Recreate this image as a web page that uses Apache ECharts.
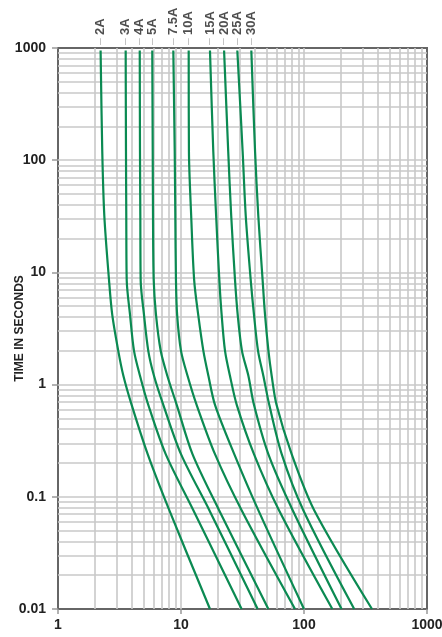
<!DOCTYPE html>
<html lang="en">
<head>
    <meta charset="UTF-8">
    <title>Time-current curves</title>
    <script type="text/javascript" src="https://cdn.jsdelivr.net/npm/echarts@6/dist/echarts.min.js"></script>
    <style>
        html, body { margin: 0; padding: 0; background: #fff; }
        #chart { width: 442px; height: 637px; }
    </style>
</head>
<body>
<div id="chart"></div>
<script type="text/javascript">
    // fuse ratings, and the time (s) rows the currents were read at
    var ratings = ['2A', '3A', '4A', '5A', '7.5A', '10A', '15A', '20A', '25A', '30A'];
    var timeSec = [950, 120, 32, 8.5, 4.2, 2.0, 1.2, 0.66, 0.24, 0.076, 0.01];

    // current (A) of each curve at those times
    var amps2A  = [2.22, 2.29, 2.38, 2.60, 2.76, 3.09, 3.40, 3.97, 5.36, 8.03, 17.2];
    var amps3A  = [3.55, 3.57, 3.59, 3.62, 3.85, 4.15, 4.64, 5.42, 7.51, 12.6, 31.1];
    var amps4A  = [4.62, 4.64, 4.67, 4.70, 5.00, 5.42, 6.03, 7.18, 10.0, 17.0, 42.0];
    var amps5A  = [5.84, 5.89, 5.92, 6.00, 6.26, 6.84, 7.74, 9.23, 12.4, 20.4, 51.3];
    var amps75A = [8.66, 8.89, 8.99, 9.10, 9.30, 10.0, 11.3, 13.4, 18.9, 31.1, 84.5];
    var amps10A = [11.55, 11.6, 12.1, 12.8, 13.8, 15.2, 16.7, 18.9, 27.1, 42.5, 100];
    var amps15A = [17.2, 18.3, 19.3, 20.5, 21.4, 22.8, 25.0, 28.4, 39.2, 62.6, 170];
    var amps20A = [22.4, 24.2, 25.6, 27.5, 28.9, 31.3, 35.3, 39.2, 51.3, 80.9, 202];
    var amps25A = [28.7, 31.7, 33.6, 36.9, 39.2, 42.3, 46.7, 52.2, 65.9, 98.7, 256];
    var amps30A = [37.3, 40.0, 42.5, 46.1, 48.2, 51.4, 54.6, 59.8, 79.4, 121, 357];

    var xDecades = [1, 10, 100];
    var yDecades = [0.01, 0.1, 1, 10, 100];

    var curves = [amps2A, amps3A, amps4A, amps5A, amps75A, amps10A, amps15A, amps20A, amps25A, amps30A];
    var narrow = "'Liberation Sans Narrow', 'Liberation Sans', Arial, sans-serif";
    var green = '#0b8a52';
    var gridGray = '#c8c8c8';

    function plainNum(v) {
        return String(parseFloat(Number(v).toPrecision(6)));
    }

    // log grid lines at 1..9 x each decade
    var gridLines = [];
    xDecades.forEach(function (d) {
        for (var k = 1; k <= 9; k++) {
            if (d * k > 1) gridLines.push({xAxis: d * k});
        }
    });
    yDecades.forEach(function (d) {
        for (var k = 1; k <= 9; k++) {
            if (d * k > 0.01) gridLines.push({yAxis: d * k});
        }
    });

    var series = [{
        type: 'line',
        data: [],
        silent: true,
        markLine: {
            silent: true,
            symbol: 'none',
            z: 1,
            animation: false,
            label: {show: false},
            lineStyle: {color: gridGray, width: 1.6, type: 'solid'},
            emphasis: {disabled: true},
            data: gridLines
        }
    }];

    curves.forEach(function (c, i) {
        series.push({
            type: 'line',
            name: ratings[i],
            z: 3,
            smooth: 0.3,
            showSymbol: false,
            clip: true,
            lineStyle: {color: green, width: 2.2},
            data: c.map(function (a, j) { return [a, timeSec[j]]; })
        });
    });

    // rating labels above the top of each curve
    series.push({
        type: 'scatter',
        z: 4,
        symbolSize: 1,
        itemStyle: {color: 'transparent'},
        silent: true,
        data: ratings.map(function (r, i) { return [curves[i][0], timeSec[0], r]; }),
        label: {
            show: true,
            position: 'top',
            distance: 5,
            rotate: 90,
            align: 'left',
            verticalAlign: 'middle',
            formatter: function (p) { return '{d|–} {t|' + p.value[2] + '}'; },
            rich: {
                d: {color: '#aaaaaa', fontSize: 12, fontFamily: 'Arial, sans-serif'},
                t: {color: '#222', fontSize: 13, fontWeight: 'bold', fontFamily: narrow}
            }
        }
    });

    var myChart = echarts.init(document.getElementById('chart'), null, {renderer: 'canvas'});
    var option = {
        animation: false,
        backgroundColor: '#fff',
        grid: {
            left: 58, right: 15, top: 48, bottom: 28,
            containLabel: false,
            outerBoundsMode: 'none',
            show: true, borderColor: '#666', borderWidth: 2
        },
        xAxis: {
            type: 'log',
            logBase: 10,
            min: 1,
            max: 1000,
            axisLine: {show: true, lineStyle: {color: '#666', width: 2}},
            axisTick: {show: true, length: 5, lineStyle: {color: '#999', width: 1.5}},
            splitLine: {show: false},
            axisLabel: {color: '#222', fontSize: 14, fontWeight: 'bold', fontFamily: narrow, margin: 9, formatter: plainNum}
        },
        yAxis: {
            type: 'log',
            logBase: 10,
            min: 0.01,
            max: 1000,
            name: 'TIME IN SECONDS',
            nameLocation: 'middle',
            nameGap: 32,
            nameRotate: 90,
            nameMoveOverlap: false,
            nameTextStyle: {color: '#222', fontSize: 12, fontWeight: 'bold', fontFamily: narrow},
            axisLine: {show: true, lineStyle: {color: '#666', width: 2}},
            axisTick: {show: true, length: 6, lineStyle: {color: '#999', width: 1.5}},
            splitLine: {show: false},
            axisLabel: {color: '#222', fontSize: 14, fontWeight: 'bold', fontFamily: narrow, margin: 12, formatter: plainNum}
        },
        series: series
    };
    myChart.setOption(option);
</script>
</body>
</html>
